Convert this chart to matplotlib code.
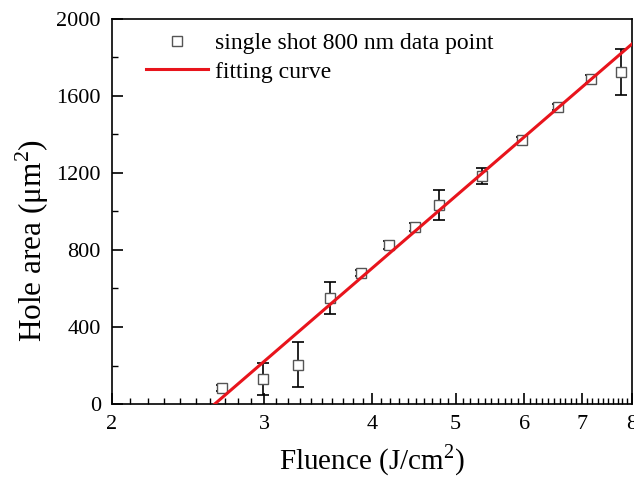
import matplotlib
matplotlib.use("Agg")
import matplotlib.pyplot as plt
from matplotlib.ticker import FixedLocator, NullFormatter
import numpy as np

plt.rcParams['font.family'] = 'Liberation Serif'
plt.rcParams['mathtext.fontset'] = 'custom'
plt.rcParams['mathtext.rm'] = 'Liberation Serif'

# measured hole areas
fluence = [2.68, 2.99, 3.28, 3.58, 3.88, 4.18, 4.48, 4.78, 5.37, 5.96, 6.56, 7.17, 7.77]
area = [83, 130, 203, 551, 680, 826, 920, 1034, 1184, 1371, 1543, 1688, 1724]
area_err = [15, 83, 117, 84, 15, 20, 20, 80, 40, 15, 15, 20, 120]

# fitting curve end points
fit_fluence = [2.63, 8.0]
fit_area = [0, 1870]

fig = plt.figure(figsize=(6.34, 4.78), dpi=100)
ax = fig.add_axes([0.1767, 0.1548, 0.8201, 0.8055])

ax.errorbar(fluence, area, yerr=area_err, fmt='none', ecolor='black',
            elinewidth=1.2, capsize=4, capthick=1.2, zorder=2)
ax.plot(fluence, area, 's', markersize=7, markerfacecolor='white',
        markeredgecolor='#555555', markeredgewidth=1.0,
        label='single shot 800 nm data point', zorder=3)
ax.plot(fit_fluence, fit_area, color='#e8141c', linewidth=2.2,
        label='fitting curve', zorder=4)

ax.set_xscale('log')
ax.set_xlim(2, 8)
ax.set_ylim(0, 2000)
ax.xaxis.set_major_locator(FixedLocator([2, 3, 4, 5, 6, 7, 8]))
ax.set_xticklabels(['2', '3', '4', '5', '6', '7', '8'])
ax.xaxis.set_minor_locator(FixedLocator(np.arange(2.1, 8.0, 0.1)))
ax.xaxis.set_minor_formatter(NullFormatter())
ax.set_yticks([0, 400, 800, 1200, 1600, 2000])
ax.set_yticks(np.arange(200, 2000, 400), minor=True)

ax.tick_params(which='major', direction='in', length=8, width=1.2,
               labelsize=16, top=False, right=False, pad=8)
ax.tick_params(which='minor', direction='in', length=4, width=1.0,
               top=False, right=False)
for s in ax.spines.values():
    s.set_linewidth(1.2)

ax.set_xlabel('Fluence (J/cm$^2$)', fontsize=21, labelpad=6)
ax.set_ylabel('Hole area (\u03bcm$^2$)', fontsize=22.5)
ax.yaxis.set_label_coords(-0.118, 0.426)

ax.legend(loc='upper left', bbox_to_anchor=(0.025, 1.02), frameon=False,
          fontsize=17, handlelength=2.6, handletextpad=0.3,
          labelspacing=0.3)

fig.savefig('out.png', dpi=100)
